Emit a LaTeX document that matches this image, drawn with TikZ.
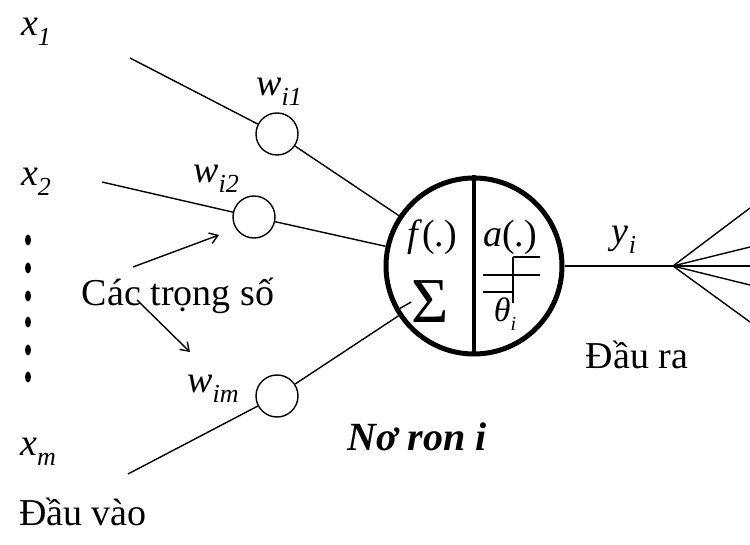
\documentclass[tikz,border=0pt]{standalone}
\usepackage{fontspec}
\setmainfont{Liberation Serif}
\newcommand\isub[2]{\textit{#1}\raisebox{-0.25em}{\fontsize{26}{26}\selectfont\textit{#2}}}
\tikzset{
  txt/.style={inner sep=0pt, font=\fontsize{38}{42}\selectfont},
  wcirc/.style={circle, draw, line width=1.4pt, minimum size=42pt, inner sep=0pt},
  neuron/.style={circle, draw, line width=5pt, minimum size=176pt, inner sep=0pt},
  wire/.style={line width=1.4pt},
  pointer/.style={line width=1.4pt, -{Straight Barb[length=8pt,width=11pt,line width=1.4pt]}},
  dotmark/.style={ellipse, fill, minimum width=6pt, minimum height=11pt, inner sep=0pt},
}
\usetikzlibrary{arrows.meta,shapes.geometric}
\begin{document}
\begin{tikzpicture}[x=1pt,y=-1pt]
\useasboundingbox (0,0) rectangle (750,545);

% inputs
\node[txt] (x1) at (36,32) {\isub{x}{1}};
\node[txt] (x2) at (36,182) {\isub{x}{2}};
\node[txt] (xm) at (38,452) {\isub{x}{m}};
\coordinate (x1e) at (130,58);
\coordinate (x2e) at (102,182);
\coordinate (xme) at (128,474);

% dots
\foreach \yy [count=\k] in {240,268,296,322,350,377}
  \node[dotmark] (d\k) at (28,\yy) {};

% weights
\node[wcirc] (w1) at (277,134) {};
\node[wcirc] (w2) at (254,217) {};
\node[wcirc] (wm) at (277,396) {};
\node[txt] (lw1) at (279,92) {\isub{w}{i1}};
\node[txt] (lw2) at (216,179) {\isub{w}{i2}};
\node[txt] (lwm) at (213,389) {\isub{w}{im}};

% neuron
\node[neuron] (n) at (474,266) {};
\draw[line width=4.5pt] (n.north) -- (n.south);
\node[txt] (f) at (432,237) {\textit{f}(.)};
\node[txt] (a) at (510,237) {\textit{a}(.)};
\node[inner sep=0pt, font=\fontsize{64}{64}\selectfont] (sig) at (430,302) {Σ};
\coordinate (s1) at (483,275);
\coordinate (s2) at (540,275);
\coordinate (s3) at (483,292);
\coordinate (s4) at (513,292);
\coordinate (s5) at (513,257);
\coordinate (s6) at (540,257);
\coordinate (s7) at (513,303);
\draw[line width=1.8pt] (s1) -- (s2);
\draw[line width=1.8pt] (s3) -- (s4);
\draw[line width=1.8pt] (s5) -- (s6);
\draw[line width=1.8pt] (s5) -- (s7);
\node[inner sep=0pt, font=\fontsize{34}{34}\selectfont] (th) at (505,314) {\textit{θ}\raisebox{-0.25em}{\fontsize{20}{20}\selectfont\textit{i}}};

\draw[wire] (x1e) -- (w1);
\draw[wire] (w1) -- (n);
\draw[wire] (x2e) -- (w2);
\draw[wire] (w2) -- (n);
\draw[wire] (xme) -- (wm);
\draw[wire] (wm) -- (n) -- (sig.west);

% output
\coordinate (fan) at (673,266);
\coordinate (o1) at (750,208);
\coordinate (o2) at (750,247);
\coordinate (o3) at (750,266);
\coordinate (o4) at (750,285);
\coordinate (o5) at (750,322);
\draw[wire] (n) -- (fan);
\foreach \k in {1,...,5} \draw[wire] (fan) -- (o\k);
\node[txt] (yi) at (624,240) {\isub{y}{i}};
\node[txt] (out) at (637,355) {Đầu ra};

% labels
\node[txt] (cts) at (178,296) {Các trọng số};
\coordinate (t1) at (133,267);
\coordinate (t2) at (137,300);
\coordinate (h1) at (219,235);
\coordinate (h2) at (190,352);
\draw[pointer] (t1) -- (h1);
\draw[pointer] (t2) -- (h2);
\node[txt, font=\fontsize{40}{44}\selectfont\bfseries\itshape] (nr) at (417,437) {Nơ ron i};
\node[txt] (in) at (83,512) {Đầu vào};
\end{tikzpicture}
\end{document}
